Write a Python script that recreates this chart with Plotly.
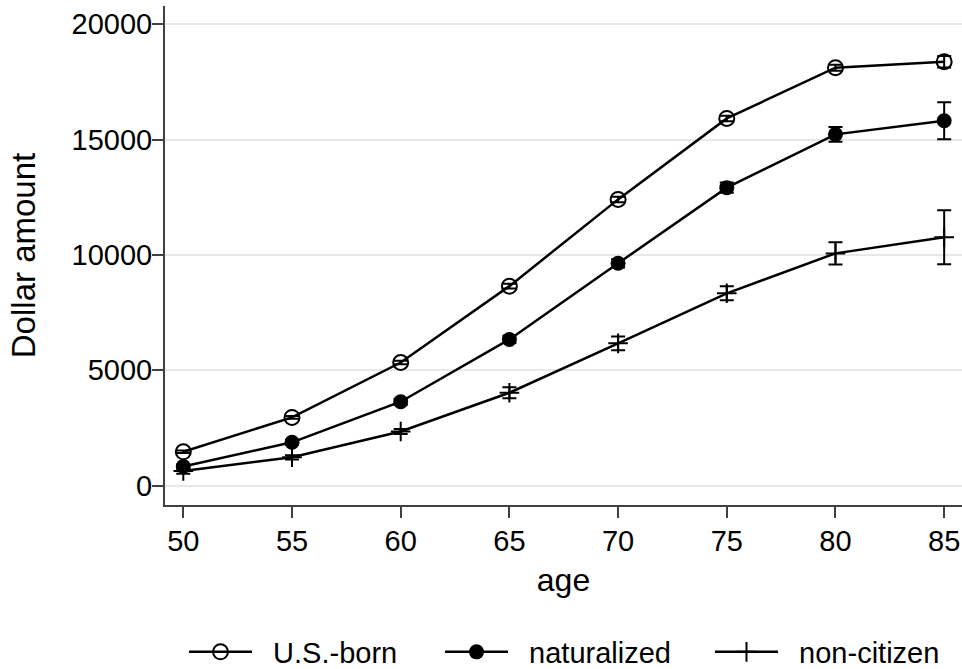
import plotly.graph_objects as go

age = [50, 55, 60, 65, 70, 75, 80, 85]

us_born = [1470, 2960, 5340, 8650, 12410, 15920, 18120, 18380]
us_born_err = [50, 60, 80, 100, 120, 120, 130, 250]

naturalized = [830, 1880, 3640, 6340, 9640, 12920, 15230, 15820]
naturalized_err = [90, 110, 130, 160, 180, 220, 320, 800]

non_citizen = [640, 1230, 2350, 4030, 6170, 8340, 10070, 10770]
non_citizen_err = [120, 90, 110, 240, 300, 300, 480, 1170]

series_names = ["U.S.-born", "naturalized", "non-citizen"]
x_ticks = [50, 55, 60, 65, 70, 75, 80, 85]
y_ticks = [0, 5000, 10000, 15000, 20000]

FONT = "Liberation Sans, Arial, sans-serif"
NB = "\u00a0\u00a0"

fig = go.Figure()

styles = [
    dict(symbol="circle-open", size=15, line=dict(color="black", width=2), color="black"),
    dict(symbol="circle", size=15, color="black", line=dict(color="black", width=0)),
    dict(symbol="cross-thin", size=14, color="black", line=dict(color="black", width=2)),
]
legend_widths = [178, 192, 160]

for name, vals, errs, mk, lw in zip(series_names,
                                     [us_born, naturalized, non_citizen],
                                     [us_born_err, naturalized_err, non_citizen_err],
                                     styles, legend_widths):
    fig.add_trace(go.Scatter(
        x=age, y=vals, name=NB + name, mode="lines+markers",
        line=dict(color="black", width=2.5),
        marker=mk, legendwidth=lw,
        error_y=dict(type="data", array=errs, visible=True,
                     color="black", thickness=2, width=7),
    ))

fig.update_layout(
    width=962, height=669,
    margin=dict(l=165, r=0, t=6, b=164, autoexpand=False),
    paper_bgcolor="white", plot_bgcolor="white",
    font=dict(family=FONT, color="black", size=29),
    showlegend=True,
    legend=dict(orientation="h", x=(184 - 165) / 797, xanchor="left",
                y=(505 - 652) / 499, yanchor="middle",
                font=dict(size=29), itemwidth=63,
                borderwidth=0, bgcolor="rgba(0,0,0,0)"),
)

fig.update_xaxes(
    range=[49.158, 85.82], tickvals=x_ticks, ticktext=[str(v) for v in x_ticks],
    showgrid=False, zeroline=False, automargin=False,
    showline=True, linecolor="#404040", linewidth=2,
    ticks="outside", ticklen=11, tickwidth=2, tickcolor="#404040",
    tickfont=dict(size=29), ticklabelstandoff=-2,
    title=dict(text="age", font=dict(size=32), standoff=13),
)

fig.update_yaxes(
    range=[-837, 20793], tickvals=y_ticks, ticktext=[str(v) for v in y_ticks],
    showgrid=True, gridcolor="#e8e8e8", gridwidth=1.5, zeroline=False, automargin=False,
    showline=True, linecolor="#404040", linewidth=2,
    ticks="outside", ticklen=11, tickwidth=2, tickcolor="#404040",
    tickfont=dict(size=29), ticklabelstandoff=-6,
    title=dict(text="Dollar amount", font=dict(size=33), standoff=26),
)

fig.write_html("out.html")
